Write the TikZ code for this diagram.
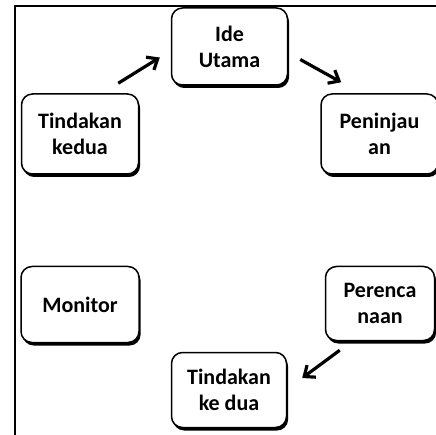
\documentclass[tikz,border=0pt]{standalone}
\usepackage{fontspec}
\setmainfont{Carlito}
\usetikzlibrary{arrows.meta,shadows}

\begin{document}
\begin{tikzpicture}[x=1pt,y=-1pt]
\tikzstyle{every node}+=[inner sep=0pt]
\tikzstyle{box}=[draw=black, line width=1.5pt, rounded corners=11pt, fill=white,
  align=center, font=\fontsize{22}{26}\selectfont\bfseries,
  drop shadow={shadow xshift=1.6pt, shadow yshift=-3pt, opacity=1, fill=black}]
\tikzstyle{arr}=[line width=3.2pt, -{Straight Barb[length=9pt,width=15pt,line width=3.2pt]}]
\useasboundingbox (0,0) rectangle (436,435);
% frame
\draw [black, line width=1.8pt] (15,440) -- (15,6) -- (440,6);
% boxes
\node [box, minimum width=116pt, minimum height=77pt] (ide) at (229.5,46.5) {Ide\\Utama};
\node [box, minimum width=117pt, minimum height=80pt] (tk1) at (80,134) {Tindakan\\kedua};
\node [box, minimum width=117pt, minimum height=80pt] (pen) at (379.5,134) {Peninjau\\an};
\node [box, minimum width=118pt, minimum height=76pt] (mon) at (80,304.5) {Monitor};
\node [box, minimum width=109pt, minimum height=74pt] (per) at (380,303.5) {Perenca\\naan};
\node [box, minimum width=115pt, minimum height=75pt] (tk2) at (229,390) {Tindakan\\ke dua};
% arrows
\draw [arr] ([shift={(-21,-10)}]tk1.north east) -- ([shift={(-11,11)}]ide.west);
\draw [arr] ([shift={(12,13)}]ide.east) -- ([shift={(21,-11)}]pen.north west);
\draw [arr] ([shift={(15,9)}]per.south west) -- ([shift={(15,-12)}]tk2.east);
\end{tikzpicture}
\end{document}
